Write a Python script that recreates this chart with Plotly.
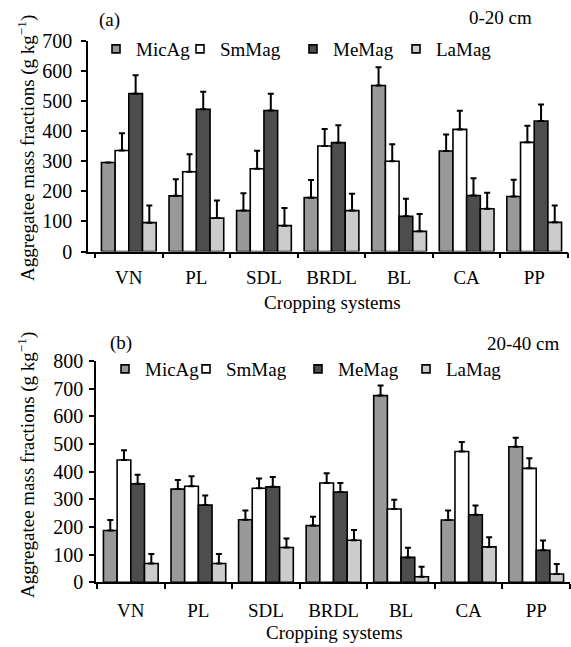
import plotly.graph_objects as go

categories = ["VN", "PL", "SDL", "BRDL", "BL", "CA", "PP"]
series = ["MicAg", "SmMag", "MeMag", "LaMag"]
colors = ["#999999", "#ffffff", "#4d4d4d", "#cccccc"]

# Panel (a) 0-20 cm
a_micag = [296, 185, 136, 179, 552, 334, 183]
a_smmag = [336, 265, 275, 351, 300, 406, 363]
a_memag = [525, 473, 469, 362, 117, 186, 434]
a_lamag = [96, 111, 86, 136, 67, 142, 97]
a_micag_err = [0, 55, 58, 59, 61, 55, 56]
a_smmag_err = [57, 58, 60, 56, 57, 62, 55]
a_memag_err = [61, 58, 56, 58, 58, 58, 55]
a_lamag_err = [57, 59, 59, 56, 58, 53, 56]

# Panel (b) 20-40 cm
b_micag = [187, 337, 226, 205, 675, 225, 490]
b_smmag = [442, 347, 340, 359, 265, 473, 412]
b_memag = [356, 279, 345, 326, 90, 244, 116]
b_lamag = [68, 68, 126, 152, 20, 128, 30]
b_micag_err = [38, 33, 34, 32, 36, 35, 33]
b_smmag_err = [35, 36, 35, 35, 33, 34, 36]
b_memag_err = [33, 35, 36, 33, 35, 34, 35]
b_lamag_err = [34, 34, 32, 37, 36, 35, 36]

a_vals = [a_micag, a_smmag, a_memag, a_lamag]
a_errs = [a_micag_err, a_smmag_err, a_memag_err, a_lamag_err]
b_vals = [b_micag, b_smmag, b_memag, b_lamag]
b_errs = [b_micag_err, b_smmag_err, b_memag_err, b_lamag_err]

y_ticks_a = [0, 100, 200, 300, 400, 500, 600, 700]
y_ticks_b = [0, 100, 200, 300, 400, 500, 600, 700, 800]

FONT = "Liberation Serif, Times New Roman, serif"
FS = 19
W, H = 571, 647

def px_x(p):
    return p / W

def px_y(p):
    return 1 - p / H

# legend entry left positions (px) per panel, and legend row centre (px)
legend_left_a = [96, 180, 293, 396]
legend_left_b = [105, 186, 298, 406]
legend_row = [49, 369]

fig = go.Figure()
legend_layout = {}
k = 0
for p, (vals, errs, xa, ya, lefts) in enumerate(
        [(a_vals, a_errs, "x", "y", legend_left_a),
         (b_vals, b_errs, "x2", "y2", legend_left_b)]):
    for name, col, v, e in zip(series, colors, vals, errs):
        fig.add_trace(go.Bar(
            x=categories, y=v, name=name, xaxis=xa, yaxis=ya,
            marker=dict(color=col, line=dict(color="black", width=1.6)),
            error_y=dict(type="data", symmetric=False, array=e,
                         arrayminus=[0] * len(e), color="black",
                         thickness=2, width=3),
            showlegend=False,
        ))
    for name, col, lx in zip(series, colors, lefts):
        k += 1
        lname = "legend" if k == 1 else f"legend{k}"
        fig.add_trace(go.Scatter(
            x=[None], y=[None], mode="markers", name=name,
            xaxis=xa, yaxis=ya, legend=lname,
            marker=dict(symbol="square", size=8, color=col,
                        line=dict(color="black", width=1.6)),
        ))
        legend_layout[lname] = dict(
            orientation="h", x=px_x(lx), y=px_y(legend_row[p]),
            xanchor="left", yanchor="middle", bgcolor="rgba(0,0,0,0)",
            font=dict(family=FONT, size=FS, color="black"),
            itemclick=False, itemdoubleclick=False)

xcommon = dict(type="category", categoryorder="array", categoryarray=categories,
               showline=True, linecolor="black", linewidth=1.6,
               ticks="outside", tickson="boundaries", ticklen=5, tickwidth=1.6,
               tickcolor="black", showgrid=False, zeroline=False,
               automargin=False,
               tickfont=dict(family=FONT, size=FS, color="black"))
ycommon = dict(showline=True, linecolor="black", linewidth=1.6,
               ticks="outside", ticklen=5, tickwidth=1.6, tickcolor="black",
               showgrid=False, zeroline=False, automargin=False,
               tickfont=dict(family=FONT, size=20, color="black"))

fig.update_layout(
    width=W, height=H, autosize=False,
    margin=dict(l=0, r=0, t=0, b=0, pad=0, autoexpand=False),
    paper_bgcolor="white", plot_bgcolor="white",
    barmode="group", bargap=0.19, bargroupgap=0,
    font=dict(family=FONT, size=FS, color="black"),
    xaxis=dict(domain=[px_x(88), px_x(568)], range=[-0.604, 6.5],
               anchor="y", ticklabelstandoff=8, **xcommon),
    yaxis=dict(domain=[px_y(251.5), px_y(41)], range=[0, 700],
               tickvals=y_ticks_a, anchor="x", ticklabelstandoff=5, **ycommon),
    xaxis2=dict(domain=[px_x(96), px_x(570)], range=[-0.515, 6.5],
                anchor="y2", ticklabelstandoff=10, **xcommon),
    yaxis2=dict(domain=[px_y(582.3), px_y(361)], range=[0, 800],
                tickvals=y_ticks_b, anchor="x2", ticklabelstandoff=2, **ycommon),
    **legend_layout,
)

ytitle = "Aggregatee mass fractions (g kg<sup>−1</sup>)"
ann = [
    dict(text="(a)", x=px_x(110), y=px_y(20)),
    dict(text="0-20 cm", x=px_x(500), y=px_y(18)),
    dict(text="(b)", x=px_x(121), y=px_y(343)),
    dict(text="20-40 cm", x=px_x(523), y=px_y(343)),
    dict(text=ytitle, x=px_x(26), y=px_y(148), textangle=-90),
    dict(text=ytitle, x=px_x(26), y=px_y(465), textangle=-90),
    dict(text="Cropping systems", x=px_x(332), y=px_y(303)),
    dict(text="Cropping systems", x=px_x(334), y=px_y(632)),
]
for a in ann:
    fig.add_annotation(xref="paper", yref="paper", showarrow=False,
                       xanchor="center", yanchor="middle",
                       font=dict(family=FONT, size=FS, color="black"), **a)

fig.write_html(
    "out.html",
    config={"displayModeBar": False},
    post_script="document.body.style.margin='0';document.body.style.overflow='hidden';",
)
